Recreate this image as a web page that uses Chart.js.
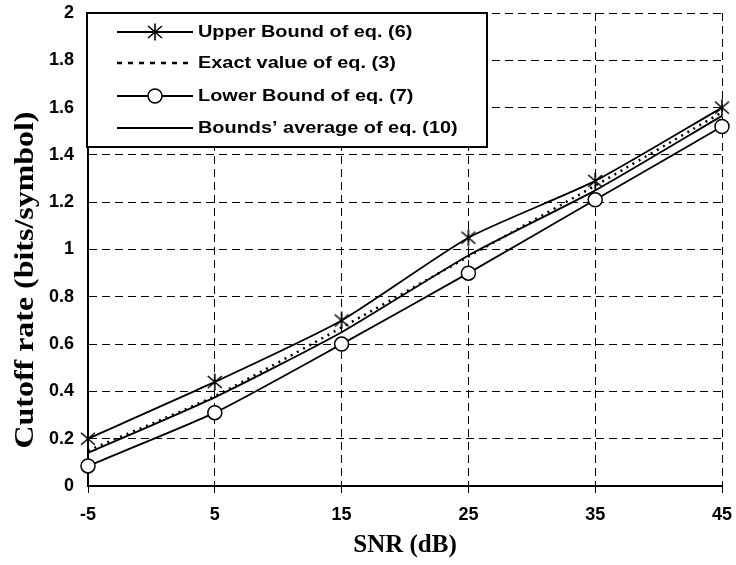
<!DOCTYPE html>
<html>
<head>
<meta charset="utf-8">
<script src="https://cdn.jsdelivr.net/npm/chart.js@4.4.1/dist/chart.umd.min.js"></script>
<style>
  html, body { margin: 0; padding: 0; background: #fff; }
  #wrap { width: 736px; height: 565px; position: relative; }
</style>
</head>
<body>
<div id="wrap"><canvas id="chart"></canvas></div>
<script>
// Cutoff rate vs SNR
// ======================

var snr        = [-5, 5, 15, 25, 35, 45];
var upperBound = [0.20, 0.44, 0.70, 1.05, 1.29, 1.60];
var exactValue = [0.15, 0.38, 0.67, 0.97, 1.27, 1.58];
var lowerBound = [0.085, 0.31, 0.60, 0.90, 1.21, 1.52];
var boundsAvg  = [0.14, 0.375, 0.65, 0.975, 1.25, 1.565];

var legendLabels = [
    "Upper Bound of eq. (6)"
    , "Exact value of eq. (3)"
    , "Lower Bound of eq. (7)"
    , "Bounds\u2019 average of eq. (10)"
];
var xTitle = "SNR (dB)";
var yTitle = "Cutoff rate (bits/symbol)";

var tickFont  = { family: "'Liberation Sans', Arial, sans-serif", size: 18, weight: 'bold' };
var titleFont = { family: "'Liberation Serif', 'Times New Roman', serif", size: 25, weight: 'bold' };

function toPoints(ys) {
    return ys.map(function (y, i) { return { x: snr[i], y: y }; });
}

// excel-like asterisk marker: an X with a vertical bar
var asterisk = document.createElement('canvas');
asterisk.width = 18;
asterisk.height = 18;
(function () {
    var c = asterisk.getContext('2d');
    c.strokeStyle = '#000';
    c.lineWidth = 1.6;
    c.beginPath();
    c.moveTo(2, 3); c.lineTo(16, 15);
    c.moveTo(16, 3); c.lineTo(2, 15);
    c.moveTo(9, 0.5); c.lineTo(9, 17.5);
    c.stroke();
})();

// legend drawn inside the plot, top-left, like the original figure
var boxLegend = {
    id: 'boxLegend'
    , afterDraw: function (chart) {
        var ctx = chart.ctx;
        var box = { x: 87, y: 13, w: 400, h: 134 };
        var rows = [32, 63, 96, 128];

        ctx.save();
        ctx.fillStyle = '#fff';
        ctx.fillRect(box.x, box.y, box.w, box.h);
        ctx.lineWidth = 2;
        ctx.strokeStyle = '#000';
        ctx.strokeRect(box.x, box.y, box.w, box.h);

        rows.forEach(function (y, i) {
            ctx.beginPath();
            ctx.lineWidth = i === 1 ? 2.5 : 1.8;
            ctx.setLineDash(i === 1 ? [5, 6] : []);
            ctx.moveTo(117, y);
            ctx.lineTo(193, y);
            ctx.stroke();
            ctx.setLineDash([]);

            if (i === 0) {
                Chart.helpers.drawPoint(ctx, { pointStyle: asterisk, radius: 8, borderWidth: 1.5 }, 155, y);
            }
            if (i === 2) {
                ctx.fillStyle = '#fff';
                ctx.lineWidth = 1.5;
                Chart.helpers.drawPoint(ctx, { pointStyle: 'circle', radius: 7, borderWidth: 1.5 }, 155, y);
            }

            ctx.save();
            ctx.fillStyle = '#000';
            ctx.font = 'bold 17px "Liberation Sans", Arial, sans-serif';
            ctx.textBaseline = 'middle';
            ctx.textAlign = 'left';
            ctx.translate(198, y);
            ctx.scale(1.17, 1);
            ctx.fillText(legendLabels[i], 0, 0);
            ctx.restore();
        });

        // y axis title, slightly stretched along its length as in the figure
        ctx.save();
        ctx.fillStyle = '#000';
        ctx.font = 'bold 28px "Liberation Serif", "Times New Roman", serif';
        ctx.textAlign = 'center';
        ctx.textBaseline = 'alphabetic';
        ctx.translate(33, 280);
        ctx.rotate(-Math.PI / 2);
        ctx.scale(1.14, 1);
        ctx.fillText(yTitle, 0, 0);
        ctx.restore();

        ctx.restore();
    }
};

new Chart(document.getElementById('chart'), {
    type: 'line'
    , data: {
        datasets: [
            {
                label: legendLabels[0]
                , data: toPoints(upperBound)
                , borderColor: '#000'
                , borderWidth: 1.8
                , pointStyle: asterisk
                , pointRadius: 8
                , tension: 0.2
            }
            , {
                label: legendLabels[2]
                , data: toPoints(lowerBound)
                , borderColor: '#000'
                , borderWidth: 1.8
                , pointStyle: 'circle'
                , pointRadius: 7
                , pointBorderWidth: 1.5
                , pointBorderColor: '#000'
                , pointBackgroundColor: '#fff'
                , tension: 0.2
            }
            , {
                label: legendLabels[1]
                , data: toPoints(exactValue)
                , borderColor: '#000'
                , borderWidth: 2.5
                , borderDash: [2, 5]
                , pointRadius: 0
                , tension: 0.2
            }
            , {
                label: legendLabels[3]
                , data: toPoints(boundsAvg)
                , borderColor: '#000'
                , borderWidth: 1.8
                , pointRadius: 0
                , tension: 0.2
            }
        ]
    }
    , options: {
        responsive: true
        , maintainAspectRatio: false
        , animation: false
        , clip: false
        , layout: { padding: { top: 13, right: 14, left: 0, bottom: 0 } }
        , plugins: {
            legend: { display: false }
            , tooltip: { enabled: false }
        }
        , scales: {
            x: {
                type: 'linear'
                , min: -5
                , max: 45
                , afterBuildTicks: function (scale) {
                    scale.ticks = snr.map(function (v) { return { value: v }; });
                }
                , afterFit: function (scale) {
                    scale.height = 79;
                    scale.paddingLeft = 0;
                    scale.paddingRight = 0;
                }
                , ticks: { color: '#000', font: tickFont, padding: 11, maxRotation: 0 }
                , grid: { color: '#000', lineWidth: 1, tickLength: 7, tickColor: '#000' }
                , border: { display: true, color: '#000', width: 2, dash: [8, 5] }
                , title: {
                    display: true
                    , text: xTitle
                    , color: '#000'
                    , font: titleFont
                    , padding: { top: 0, bottom: 4 }
                }
            }
            , y: {
                min: 0
                , max: 2
                , afterFit: function (scale) {
                    scale.width = 88;
                    scale.paddingTop = 0;
                    scale.paddingBottom = 0;
                }
                , ticks: {
                    stepSize: 0.2
                    , color: '#000'
                    , font: tickFont
                    , padding: 14
                    , callback: function (v) { return Math.round(v * 10) / 10; }
                }
                , grid: { color: '#000', lineWidth: 1, drawTicks: false }
                , border: { display: true, color: '#000', width: 2, dash: [8, 5] }
            }
        }
    }
    , plugins: [boxLegend]
});
</script>
</body>
</html>
